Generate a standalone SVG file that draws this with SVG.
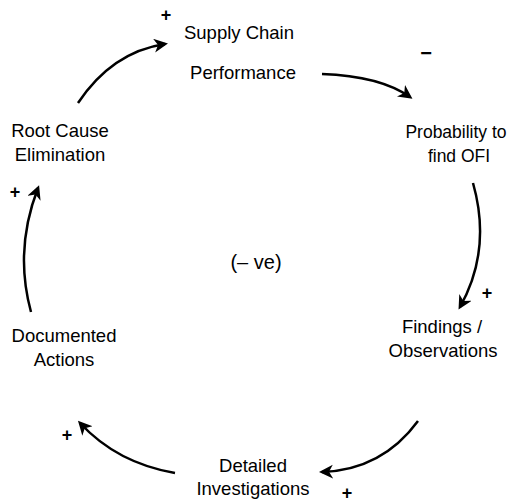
<svg xmlns="http://www.w3.org/2000/svg" width="516" height="503" viewBox="0 0 516 503">
  <defs>
    <marker id="head" markerUnits="userSpaceOnUse" markerWidth="16" markerHeight="16" refX="11" refY="7" orient="auto">
      <path d="M0,0 L14,7 L0,14 L4,7 Z" fill="#000"/>
    </marker>
    <style>
      .lbl { font-family: "Liberation Sans", Arial, sans-serif; font-size: 18.5px; fill: #000; text-anchor: middle; }
      .sign { font-family: "Liberation Sans", Arial, sans-serif; font-size: 18px; font-weight: bold; fill: #000; text-anchor: middle; }
      .link { fill: none; stroke: #000; stroke-width: 2.5; marker-end: url(#head); }
    </style>
  </defs>
  <rect width="516" height="503" fill="#fff"/>

  <g id="connectors">
    <path class="link" d="M78,103 Q112,52 165,44"/>
    <path class="link" d="M322,74 Q380,76 410,97"/>
    <path class="link" d="M473,183 Q492,250 460,307"/>
    <path class="link" d="M418,421 Q382,470 322,472"/>
    <path class="link" d="M175,473 Q117,463 80,423"/>
    <path class="link" d="M31,312 Q14,250 38,188"/>
  </g>

  <g id="supply-chain-performance">
    <text class="lbl" x="239" y="39">Supply Chain</text>
    <text class="lbl" x="243" y="79">Performance</text>
  </g>
  <g id="probability-ofi">
    <text class="lbl" x="456" y="138" style="font-size:17.5px">Probability to</text>
    <text class="lbl" x="459" y="162" style="font-size:17.5px">find OFI</text>
  </g>
  <g id="findings-observations">
    <text class="lbl" x="442" y="333">Findings /</text>
    <text class="lbl" x="443" y="357">Observations</text>
  </g>
  <g id="detailed-investigations">
    <text class="lbl" x="253" y="472">Detailed</text>
    <text class="lbl" x="253" y="495">Investigations</text>
  </g>
  <g id="documented-actions">
    <text class="lbl" x="64" y="342">Documented</text>
    <text class="lbl" x="64" y="366">Actions</text>
  </g>
  <g id="root-cause-elimination">
    <text class="lbl" x="60" y="137">Root Cause</text>
    <text class="lbl" x="60" y="161">Elimination</text>
  </g>

  <g id="polarity">
    <text class="sign" x="166" y="21">+</text>
    <text class="sign" x="426" y="60" style="font-size:20px">−</text>
    <text class="sign" x="487" y="299">+</text>
    <text class="sign" x="347" y="499">+</text>
    <text class="sign" x="67" y="441">+</text>
    <text class="sign" x="15" y="198">+</text>
  </g>

  <text class="lbl" x="256" y="269" style="font-size:20px">(– ve)</text>
</svg>
